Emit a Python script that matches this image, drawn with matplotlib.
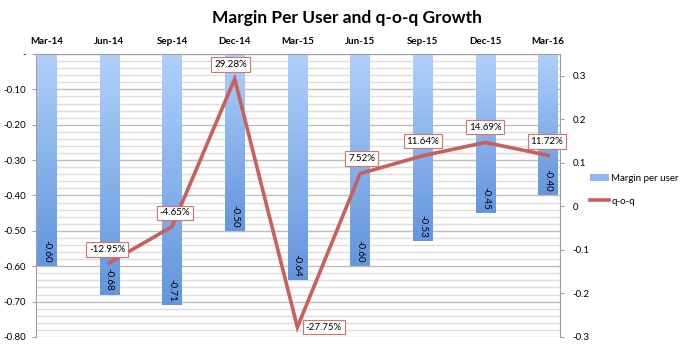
import matplotlib
matplotlib.use("Agg")
import matplotlib.pyplot as plt
import numpy as np
from matplotlib.colors import LinearSegmentedColormap
from matplotlib.lines import Line2D
from matplotlib.patches import Patch
from matplotlib.ticker import FixedLocator, MultipleLocator

plt.rcParams['font.family'] = ['Lato', 'DejaVu Sans']

quarters = ['Mar-14', 'Jun-14', 'Sep-14', 'Dec-14', 'Mar-15', 'Jun-15',
            'Sep-15', 'Dec-15', 'Mar-16']
margin = [-0.60, -0.68, -0.71, -0.50, -0.64, -0.60, -0.53, -0.45, -0.40]
qoq = [None, -12.95, -4.65, 29.28, -27.75, 7.52, 11.64, 14.69, 11.72]
left_ticks = [-0.80, -0.70, -0.60, -0.50, -0.40, -0.30, -0.20, -0.10, 0.0]
right_ticks = [-0.3, -0.2, -0.1, 0, 0.1, 0.2, 0.3]

# label offsets in points for q-o-q boxes
lab_off = [None, (-1.5, 9.5), (2, 10), (-3, 10.5), (19, 0), (1, 11),
           (0, 10.5), (0, 11), (-1, 10)]

fs = 7

fig = plt.figure(figsize=(6.91, 3.49), dpi=100)
ax = fig.add_axes([36 / 691, 1 - 337 / 349, (560 - 36) / 691, (337 - 54) / 349])
ax2 = ax.twinx()

x = np.arange(len(quarters))
width = 0.31
cmap = LinearSegmentedColormap.from_list('bl', ['#6396dd', '#b0d0fb'])
grad = np.linspace(0, 1, 100).reshape(-1, 1)

bars = ax.bar(x, margin, width=width, color='none', zorder=2)
for b, v in zip(bars, margin):
    x0 = b.get_x()
    im = ax.imshow(grad, extent=[x0, x0 + width, v, 0], aspect='auto',
                   cmap=cmap, origin='lower', zorder=2)
    im.set_clip_path(b)
    ax.annotate(f'{v:.2f}', xy=(b.get_x() + width / 2, v), xytext=(0, 2.5),
                textcoords='offset points', rotation=-90, ha='center',
                va='bottom', fontsize=fs, zorder=3)

ax.set_xlim(-0.17, 8.19)
ax.set_ylim(-0.80, 0)
ax.yaxis.set_major_locator(FixedLocator(left_ticks))
ax.yaxis.set_minor_locator(MultipleLocator(0.02))
ax.set_yticklabels(['-' if t == 0 else f'{t:.2f}' for t in left_ticks], fontsize=fs)
ax.grid(axis='y', which='major', color='#bdbdbd', lw=1.0, zorder=0)
ax.grid(axis='y', which='minor', color='#dedede', lw=1.0, zorder=0)
ax.set_axisbelow(True)
ax.xaxis.tick_top()
ax.set_xticks(x)
ax.set_xticklabels(quarters, fontsize=fs, fontweight='bold')
ax.tick_params(axis='x', length=0, pad=6)
ax.tick_params(axis='y', which='major', length=3, color='#a0a0a0', pad=4)
ax.tick_params(axis='y', which='minor', length=0)
for s in ['left', 'top', 'right']:
    ax.spines[s].set_color('#a0a0a0')
ax.spines['bottom'].set_visible(False)

xs = [i for i, v in enumerate(qoq) if v is not None]
ys = [v / 100 for v in qoq if v is not None]
ax2.plot(xs, ys, color='#c9605c', lw=2.6, zorder=4, solid_joinstyle='miter')
for i in xs:
    ax2.annotate(f'{qoq[i]:.2f}%', xy=(i, qoq[i] / 100), xytext=lab_off[i],
                 textcoords='offset points', ha='center', va='center',
                 fontsize=fs, zorder=5,
                 bbox=dict(boxstyle='square,pad=0.28', fc='white', ec='#d9736f', lw=0.8))
ax2.set_ylim(-0.30, 0.35)
ax2.set_yticks(right_ticks)
ax2.set_yticklabels([f'{t:g}' for t in right_ticks], fontsize=fs)
ax2.tick_params(axis='y', length=3, color='#a0a0a0', pad=6)
for s in ax2.spines.values():
    s.set_visible(False)

handles = [Patch(facecolor='#8fb8ef', edgecolor='none'),
           Line2D([0], [0], color='#c9605c', lw=2.6)]
fig.legend(handles, ['Margin per user', 'q-o-q'], loc='center left',
           bbox_to_anchor=(590 / 691, 1 - 190 / 349), frameon=False, fontsize=fs,
           handlelength=2.0, handletextpad=0.2, labelspacing=1.4,
           borderaxespad=0, borderpad=0)

fig.text(0.5015, 1 - 18 / 349, 'Margin Per User and q-o-q Growth',
         ha='center', va='center', fontsize=12.5, fontweight='bold')

fig.savefig('out.png', dpi=100)
